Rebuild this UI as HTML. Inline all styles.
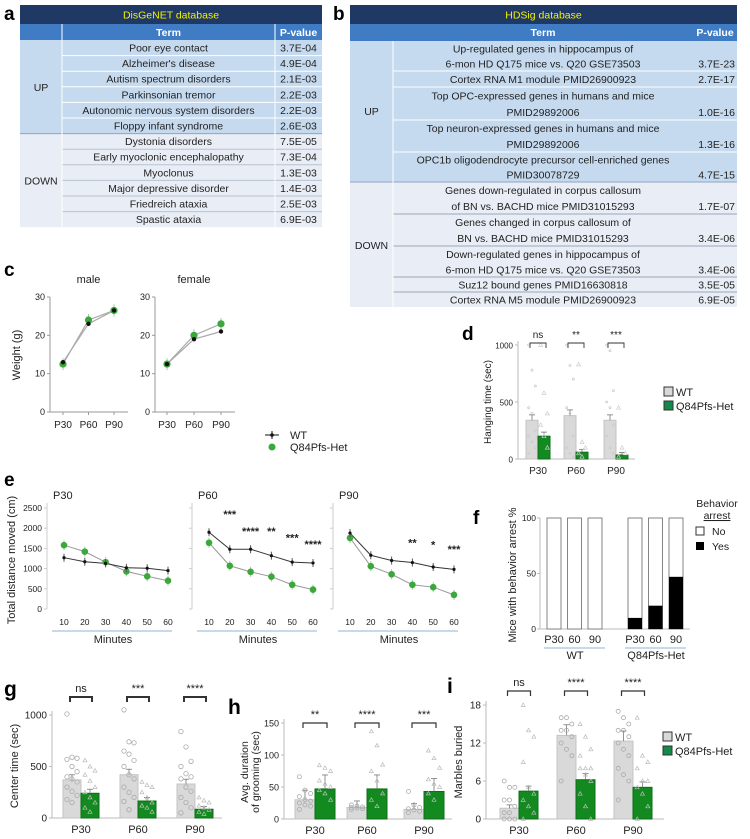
<!DOCTYPE html>
<html><head><meta charset="utf-8"><style>
html,body{margin:0;padding:0;background:#fff;}
svg{display:block;font-family:"Liberation Sans",sans-serif;}
</style></head><body>
<svg id="fig" xmlns="http://www.w3.org/2000/svg" width="750" height="839" viewBox="0 0 750 839">
<text x="4" y="20" font-size="19" font-weight="bold">a</text>
<text x="333" y="20" font-size="19" font-weight="bold">b</text>
<text x="4" y="276" font-size="19" font-weight="bold">c</text>
<text x="462" y="340" font-size="19" font-weight="bold">d</text>
<text x="4" y="486" font-size="19" font-weight="bold">e</text>
<text x="473" y="524" font-size="19" font-weight="bold">f</text>
<text x="4" y="696" font-size="21" font-weight="bold">g</text>
<text x="228" y="714" font-size="21" font-weight="bold">h</text>
<text x="447" y="693" font-size="21" font-weight="bold">i</text>
</svg>
<script>
// ---------- data ----------
const tableATerms = ["Poor eye contact","Alzheimer's disease","Autism spectrum disorders","Parkinsonian tremor","Autonomic nervous system disorders","Floppy infant syndrome","Dystonia disorders","Early myoclonic encephalopathy","Myoclonus","Major depressive disorder","Friedreich ataxia","Spastic ataxia"];
const tableAP = ["3.7E-04","4.9E-04","2.1E-03","2.2E-03","2.2E-03","2.6E-03","7.5E-05","7.3E-04","1.3E-03","1.4E-03","2.5E-03","6.9E-03"];
const tableBTerms = [["Up-regulated genes in hippocampus of","6-mon HD Q175 mice vs. Q20 GSE73503"],["Cortex RNA M1 module PMID26900923"],["Top OPC-expressed genes in humans and mice","PMID29892006"],["Top neuron-expressed genes in humans and mice","PMID29892006"],["OPC1b oligodendrocyte precursor cell-enriched genes","PMID30078729"],["Genes down-regulated in corpus callosum","of BN vs. BACHD mice PMID31015293"],["Genes changed in corpus callosum of","BN vs. BACHD mice PMID31015293"],["Down-regulated genes in hippocampus of","6-mon HD Q175 mice vs. Q20 GSE73503"],["Suz12 bound genes PMID16630818"],["Cortex RNA M5 module PMID26900923"]];
const tableBP = ["3.7E-23","2.7E-17","1.0E-16","1.3E-16","4.7E-15","1.7E-07","3.4E-06","3.4E-06","3.5E-05","6.9E-05"];

const ageLabels = ["P30","P60","P90"];
const weightMaleWT = [13, 23, 26.5];
const weightMaleHet = [12.5, 24, 26.5];
const weightFemaleWT = [12.5, 19, 21];
const weightFemaleHet = [12.5, 20, 23];
const weightTicks = [0,10,20,30];

const hangWT = [340, 380, 340];
const hangHet = [200, 60, 35];
const hangSig = ["ns","**","***"];
const hangTicks = [0,500,1000];
const hangPtsWT = [[1000,780,640,450,400,250,200,150,100,50],[1000,820,700,450,400,200,100,50,20],[1000,950,600,500,450,300,200,100,50]];
const hangPtsHet = [[1000,580,400,300,200,100],[830,150,100,50,20],[450,100,50,20]];

const minutes = [10,20,30,40,50,60];
const distTicks = [0,500,1000,1500,2000,2500];
const distWT = [[1270,1170,1130,1020,1010,950],[1900,1480,1480,1320,1160,1140],[1880,1330,1200,1150,1040,980]];
const distHet = [[1580,1420,1160,930,810,700],[1640,1070,920,800,600,480],[1760,1060,860,600,540,350]];
const distStars = [["","","","","",""],["","***","****","**","***","****"],["","","","**","*","***"]];

const arrestWT = [0,0,0];
const arrestHet = [10,21,47];
const arrestTicks = [0,50,100];
const arrestLabels = ["P30","60","90"];

const centerWT = [370, 420, 330];
const centerHet = [240, 165, 85];
const centerSig = ["ns","***","****"];
const centerTicks = [0,500,1000];
const centerPtsWT = [[1010,590,580,570,500,450,400,380,350,300,260,220,180,150],[1050,740,730,650,620,560,500,420,380,300,250,200,160,80],[840,690,550,500,430,400,380,300,260,200,150,100,50]];
const centerPtsHet = [[560,500,460,420,360,300,250,200,150,100,60],[350,320,300,250,200,150,120,100,60],[200,170,150,120,100,80,60,40]];

const groomWT = [30, 18, 15];
const groomHet = [47, 47, 43];
const groomSig = ["**","****","***"];
const groomTicks = [0,50,100,150];
const groomPtsWT = [[66,45,40,35,30,28,25,22,20,15],[22,20,19,18,17,16,15],[43,22,18,16,14,12,10]];
const groomPtsHet = [[84,80,75,60,55,50,45,40,30],[137,115,85,75,60,40,30,20],[107,95,80,62,55,50,40,30]];

const marbleWT = [1.7, 13.2, 12.3];
const marbleHet = [4.4, 6.2, 5.0];
const marbleSig = ["ns","****","****"];
const marbleTicks = [0,6,12,18];
const marblePtsWT = [[6,5,5,3,3,2,1,1,0,0,0],[16,16,15,14,14,13,12,11,10,6],[17,16,15,14,14,13,12,11,10,8,7,6,3]];
const marblePtsHet = [[18,14,13,9,5,4,3,2,1,0],[15,13,11,10,8,8,8,7,6,4,2,0],[16,10,9,8,6,6,5,4,2,0]];

// ---------- helpers ----------
const NS = "http://www.w3.org/2000/svg";
const svg = document.getElementById("fig");
const GREEN = "#138a1f", GRAY = "#d9d9d9";
function mk(tag, attrs, parent){ const e=document.createElementNS(NS,tag); for(const k in attrs) e.setAttribute(k,attrs[k]); (parent||svg).appendChild(e); return e; }
function txt(x,y,s,size,anchor,extra){ const e=mk("text",Object.assign({x:x,y:y,"font-size":size,"text-anchor":anchor||"start",fill:"#222"},extra||{})); e.textContent=s; return e; }

// ---------- Table A ----------
(function(){
  const x0=20,x1=62,x2=275,x3=322, top=5, h0=19, h1=16, rh=15.6;
  const r0 = top+h0+h1;
  let e=mk("rect",{x:x0,y:top,width:x3-x0,height:h0,fill:"#1f3864"});
   
  e=txt((x0+x3)/2,top+13.5,"DisGeNET database",10.5,"middle",{fill:"#f2f200"});
   
  e=mk("rect",{x:x0,y:top+h0,width:x3-x0,height:h1,fill:"#3f7cc4"});
   
  mk("line",{x1:x1,y1:top+h0,x2:x1,y2:r0,stroke:"#fff","stroke-width":1});
  mk("line",{x1:x2,y1:top+h0,x2:x2,y2:r0,stroke:"#fff","stroke-width":1});
  e=txt((x1+x2)/2,top+h0+12,"Term",10.5,"middle",{fill:"#fff","font-weight":"bold"});
   
  e=txt((x2+x3)/2,top+h0+12,"P-value",10.5,"middle",{fill:"#fff","font-weight":"bold"});
   
  mk("rect",{x:x0,y:r0,width:x3-x0,height:rh*6,fill:"#c6daef"});
  mk("rect",{x:x0,y:r0+rh*6,width:x3-x0,height:rh*6,fill:"#e9edf5"});
  mk("line",{x1:x0,y1:r0+rh*6,x2:x3,y2:r0+rh*6,stroke:"#8fa4c2","stroke-width":1});
  e=txt((x0+x1)/2,r0+rh*3+4,"UP",10.5,"middle");
   
  e=txt((x0+x1)/2,r0+rh*9+4,"DOWN",10.5,"middle");
   
  tableATerms.forEach((t,i)=>{
    const y=r0+rh*i;
    if(i>0 && i!==6) mk("line",{x1:x1,y1:y,x2:x3,y2:y,stroke:i<6?"#fff":"#b9c2d2","stroke-width":1});
    let a=txt((x1+x2)/2,y+11.5,t,10.5,"middle");
     
    let b=txt((x2+x3)/2,y+11.5,tableAP[i],10.5,"middle");
     
  });
  mk("line",{x1:x1,y1:r0,x2:x1,y2:r0+rh*12,stroke:"#fff","stroke-width":1});
  mk("line",{x1:x2,y1:r0,x2:x2,y2:r0+rh*12,stroke:"#fff","stroke-width":1});
})();

// ---------- Table B ----------
(function(){
  const x0=350,x1=393,x2=693,x3=737, top=5;
  const bounds=[41,71,87,120,152,182,214,246,277,292,307];
  let e=mk("rect",{x:x0,y:top,width:x3-x0,height:19,fill:"#1f3864"});
   
  e=txt((x0+x3)/2,top+13.5,"HDSig database",10.5,"middle",{fill:"#f2f200"});
   
  e=mk("rect",{x:x0,y:24,width:x3-x0,height:17,fill:"#3f7cc4"});
   
  e=txt((x1+x2)/2,36,"Term",10.5,"middle",{fill:"#fff","font-weight":"bold"});
   
  e=txt((x2+x3)/2,36,"P-value",10.5,"middle",{fill:"#fff","font-weight":"bold"});
   
  mk("rect",{x:x0,y:41,width:x3-x0,height:182-41,fill:"#c6daef"});
  mk("rect",{x:x0,y:182,width:x3-x0,height:307-182,fill:"#e9edf5"});
  mk("line",{x1:x0,y1:182,x2:x3,y2:182,stroke:"#8fa4c2","stroke-width":1});
  e=txt((x0+x1)/2,115,"UP",10.5,"middle");
   
  e=txt((x0+x1)/2,249,"DOWN",10.5,"middle");
   
  tableBTerms.forEach((lines,i)=>{
    const y0=bounds[i], y1=bounds[i+1];
    if(i>0 && i!==5) mk("line",{x1:x1,y1:y0,x2:x3,y2:y0,stroke:i<5?"#fff":"#9aa6ba","stroke-width":1});
    const n=lines.length, lh=(y1-y0)/n;
    lines.forEach((l,j)=>{
      let a=txt((x1+x2)/2,y0+lh*j+lh/2+4,l,10.5,"middle");
       
    });
    let b=txt(x3-2,y1-lh/2+4,tableBP[i],10.5,"end");
     
  });
  mk("line",{x1:x1,y1:41,x2:x1,y2:307,stroke:"#fff","stroke-width":1});
})();

// ---------- Panel c ----------
function weightPlot(axX, x0, dx, wt, het, title, name){
  const yB=412, yT=297;
  const y=v=>yB-(v/30)*(yB-yT);
  let e=txt(x0+dx,283,title,11,"middle");
   
  e=mk("line",{x1:axX,y1:yT,x2:axX,y2:yB,stroke:"#999"});
   
  e=mk("line",{x1:axX,y1:yB,x2:x0+2*dx+14,y2:yB,stroke:"#999"});
   
  weightTicks.forEach(t=>{
    mk("line",{x1:axX-3,y1:y(t),x2:axX,y2:y(t),stroke:"#999"});
    let a=txt(axX-5,y(t)+3,String(t),9,"end");
     
  });
  ageLabels.forEach((l,i)=>{
    mk("line",{x1:x0+i*dx,y1:yB,x2:x0+i*dx,y2:yB+3,stroke:"#999"});
    let a=txt(x0+i*dx,yB+16,l,10,"middle");
     
  });
  const ptsW=wt.map((v,i)=>(x0+i*dx)+","+y(v)).join(" ");
  const ptsH=het.map((v,i)=>(x0+i*dx)+","+y(v)).join(" ");
  e=mk("polyline",{points:ptsH,fill:"none",stroke:"#aaa","stroke-width":1.2});
   
  e=mk("polyline",{points:ptsW,fill:"none",stroke:"#aaa","stroke-width":1.2});
   
  het.forEach((v,i)=>{
    mk("line",{x1:x0+i*dx,y1:y(v)-6,x2:x0+i*dx,y2:y(v)+6,stroke:"#9c9","stroke-width":1});
    let a=mk("circle",{cx:x0+i*dx,cy:y(v),r:3.6,fill:"#3aa83a"});
     
  });
  wt.forEach((v,i)=>{
    let a=mk("circle",{cx:x0+i*dx,cy:y(v),r:2.2,fill:"#111"});
     
  });
}
weightPlot(50,63,25.5,weightMaleWT,weightMaleHet,"male","weight-male");
weightPlot(155,167,27,weightFemaleWT,weightFemaleHet,"female","weight-female");
(function(){
  let e=txt(0,0,"Weight (g)",11,"middle",{transform:"translate(20,355) rotate(-90)"});
   
  mk("line",{x1:265,y1:435,x2:279,y2:435,stroke:"#111"});
  mk("line",{x1:272,y1:431,x2:272,y2:439,stroke:"#111"});
  e=mk("circle",{cx:272,cy:435,r:1.8,fill:"#111"});
   
  e=txt(290,439,"WT",11,"start");
   
  e=mk("circle",{cx:272,cy:447,r:3.5,fill:"#3aa83a"});
   
  e=txt(290,451,"Q84Pfs-Het",11,"start");
   
})();

// ---------- bar chart helper (d, g, h, i) ----------
function barChart(o){
  const y=v=>o.yB-(v/o.max)*(o.yB-o.yT);
  let e=mk("line",{x1:o.axX,y1:o.yT-4,x2:o.axX,y2:o.yB,stroke:"#bbb"});
   
  e=mk("line",{x1:o.axX,y1:o.yB,x2:o.xEnd,y2:o.yB,stroke:"#bbb"});
   
  o.ticks.forEach(t=>{
    mk("line",{x1:o.axX-3,y1:y(t),x2:o.axX,y2:y(t),stroke:"#bbb"});
    let a=txt(o.axX-5,y(t)+3.5,String(t),o.tickSize||10,"end");
     
  });
  ageLabels.forEach((l,i)=>{
    const c=o.centers[i];
    let a=mk("rect",{x:c-o.bw,y:y(o.wt[i]),width:o.bw,height:o.yB-y(o.wt[i]),fill:GRAY,stroke:"#c4c4c4"});
     
    let b=mk("rect",{x:c,y:y(o.het[i]),width:o.bw,height:o.yB-y(o.het[i]),fill:GREEN,stroke:"#0d6e18"});
    
    
    const ew=o.err||0.08;
    [[c-o.bw/2,o.wt[i]],[c+o.bw/2,o.het[i]]].forEach(p=>{
      const top=y(p[1]*(1+ew)+o.max*0.02);
      mk("line",{x1:p[0],y1:y(p[1]),x2:p[0],y2:top,stroke:"#777","stroke-width":0.8});
      mk("line",{x1:p[0]-3,y1:top,x2:p[0]+3,y2:top,stroke:"#777","stroke-width":0.8});
    });
    if(o.ptsWT){
      o.ptsWT[i].forEach((v,k)=>{
        let p=mk("circle",{cx:c-o.bw/2+((k%3)-1)*o.bw*0.28,cy:y(v),r:o.pr||2,fill:"none",stroke:o.ptColor||"#aaa","stroke-width":0.8});
         
      });
      o.ptsHet[i].forEach((v,k)=>{
        let p=mk("path",{d:`M${c+o.bw/2+((k%3)-1)*o.bw*0.28},${y(v)-2} l2,3.5 l-4,0 z`,fill:"none",stroke:o.ptColor||"#bbb","stroke-width":0.7});
         
      });
    }
    const bl=c-o.bw/2-2, br=c+o.bw/2+2;
    let s=mk("path",{d:`M${bl},${o.brY+5} V${o.brY} H${br} V${o.brY+5}`,fill:"none",stroke:"#333","stroke-width":o.brW||1.2});
     
    let st=txt(c,o.brY-5,o.sig[i],o.sigSize||11,"middle");
     
    let xl=txt(c,o.yB+15,l,o.xSize||11,"middle");
     
  });
}
barChart({name:"hanging",axX:518,yT:345,yB:459,max:1000,ticks:hangTicks,xEnd:635,centers:[538,576,616],bw:12,wt:hangWT,het:hangHet,sig:hangSig,brY:343,sigSize:10,tickSize:8,xSize:10,brW:0.9,ptsWT:hangPtsWT,ptsHet:hangPtsHet,pr:1,ptColor:"#ccc"});
barChart({name:"center-time",axX:52,yT:715,yB:818,max:1000,ticks:centerTicks,xEnd:222,centers:[81,138,195],bw:18,wt:centerWT,het:centerHet,sig:centerSig,brY:697,ptsWT:centerPtsWT,ptsHet:centerPtsHet,pr:2.2,brW:2});
barChart({name:"grooming",axX:284,yT:723,yB:819,max:150,ticks:groomTicks,xEnd:452,centers:[315,367,424],bw:20,wt:groomWT,het:groomHet,sig:groomSig,brY:723,ptsWT:groomPtsWT,ptsHet:groomPtsHet,err:0.4,tickSize:9});
barChart({name:"marbles",axX:486,yT:705,yB:819,max:18,ticks:marbleTicks,xEnd:664,centers:[519,576,633],bw:19,wt:marbleWT,het:marbleHet,sig:marbleSig,brY:691,ptsWT:marblePtsWT,ptsHet:marblePtsHet,err:0.1});

(function(){
  let e=txt(0,0,"Hanging time (sec)",10,"middle",{transform:"translate(491,402) rotate(-90)"});
   
  e=txt(0,0,"Center time (sec)",11,"middle",{transform:"translate(18,766) rotate(-90)"});
   
  e=txt(0,0,"Avg. duration",10.5,"middle",{transform:"translate(248,772) rotate(-90)"});
   
  e=txt(0,0,"of grooming (sec)",10.5,"middle",{transform:"translate(259,772) rotate(-90)"});
   
  e=txt(0,0,"Marbles buried",11,"middle",{transform:"translate(462,762) rotate(-90)"});
   
  [[664,387,"hanging"],[663,732,"marbles"]].forEach(p=>{
    let a=mk("rect",{x:p[0],y:p[1],width:9,height:9,fill:GRAY,stroke:"#333"});
     
    a=txt(p[0]+12,p[1]+9,"WT",11,"start");
     
    a=mk("rect",{x:p[0],y:p[1]+14,width:9,height:9,fill:"#138a4a",stroke:"#333"});
     
    a=txt(p[0]+12,p[1]+23,"Q84Pfs-Het",11,"start");
     
  });
})();

// ---------- Panel e ----------
(function(){
  const yB=609, yT=508;
  const y=v=>yB-(v/2500)*(yB-yT);
  const axes=[47,192,333], titles=["P30","P60","P90"];
  axes.forEach((ax,p)=>{
    const x=m=>ax+17+(m-10)/50*104;
    let e=txt(ax+6,499,titles[p],11,"start");
     
    e=mk("line",{x1:ax,y1:yT-5,x2:ax,y2:yB,stroke:"#ccc"});
     
    distTicks.forEach(t=>{
      mk("line",{x1:ax-3,y1:y(t),x2:ax,y2:y(t),stroke:"#ccc"});
      if(p===0){
        let a=txt(ax-5,y(t)+3,String(t),8.5,"end");
         
      }
    });
    minutes.forEach(m=>{
      let a=txt(x(m),625,String(m),8.5,"middle");
       
    });
    e=mk("line",{x1:ax+5,y1:631,x2:ax+125,y2:631,stroke:"#8fb3d9","stroke-width":1});
     
    e=txt(ax+66,643,"Minutes",11,"middle");
     
    e=mk("polyline",{points:distHet[p].map((v,i)=>x(minutes[i])+","+y(v)).join(" "),fill:"none",stroke:"#999","stroke-width":1});
     
    e=mk("polyline",{points:distWT[p].map((v,i)=>x(minutes[i])+","+y(v)).join(" "),fill:"none",stroke:"#333","stroke-width":1});
     
    distHet[p].forEach((v,i)=>{
      mk("line",{x1:x(minutes[i]),y1:y(v)-5,x2:x(minutes[i]),y2:y(v)+5,stroke:"#9c9"});
      let a=mk("circle",{cx:x(minutes[i]),cy:y(v),r:3.3,fill:"#3aa83a"});
       
    });
    distWT[p].forEach((v,i)=>{
      mk("line",{x1:x(minutes[i]),y1:y(v)-4,x2:x(minutes[i]),y2:y(v)+4,stroke:"#555"});
      let a=mk("circle",{cx:x(minutes[i]),cy:y(v),r:1.6,fill:"#111"});
       
      const s=distStars[p][i];
      if(s){
        let st=txt(x(minutes[i]),y(Math.max(v,distWT[p][Math.max(i-1,0)]))-14,s,11,"middle",{"font-weight":"bold"});
         
      }
    });
  });
  let e=txt(0,0,"Total distance moved (cm)",11,"middle",{transform:"translate(15,560) rotate(-90)"});
   
})();

// ---------- Panel f ----------
(function(){
  const yB=629, yT=518, ax=540;
  const y=v=>yB-(v/100)*(yB-yT);
  let e=mk("line",{x1:ax,y1:yT,x2:ax,y2:yB,stroke:"#bbb"});
   
  e=mk("line",{x1:ax,y1:yB,x2:690,y2:yB,stroke:"#bbb"});
   
  arrestTicks.forEach(t=>{
    mk("line",{x1:ax-3,y1:y(t),x2:ax,y2:y(t),stroke:"#bbb"});
    let a=txt(ax-4,y(t)+3,String(t),8.5,"end");
     
  });
  const groups=[[554,arrestWT,"wt"],[635,arrestHet,"het"]];
  groups.forEach(g=>{
    g[1].forEach((v,i)=>{
      const cx=g[0]+i*20.5, w=14;
      let a=mk("rect",{x:cx-w/2,y:yT,width:w,height:yB-yT,fill:"#fff",stroke:"#777","stroke-width":0.9});
       
      if(v>0){
        let b=mk("rect",{x:cx-w/2,y:y(v),width:w,height:yB-y(v),fill:"#000"});
         
      }
      let l=txt(cx,643,arrestLabels[i],11,"middle");
       
    });
    let u=mk("line",{x1:g[0]-10,y1:648,x2:g[0]+51,y2:648,stroke:"#8fb3d9"});
     
  });
  e=txt(575,659,"WT",11,"middle");
   
  e=txt(656,659,"Q84Pfs-Het",11,"middle");
   
  e=txt(0,0,"Mice with behavior arrest %",11,"middle",{transform:"translate(516,575) rotate(-90)"});
   
  e=txt(717,507,"Behavior",10.5,"middle");
   
  e=txt(717,519,"arrest",10.5,"middle",{"text-decoration":"underline"});
   
  e=mk("rect",{x:696,y:527,width:8,height:8,fill:"#fff",stroke:"#333"});
   
  e=txt(712,535,"No",10.5,"start");
   
  e=mk("rect",{x:696,y:542,width:8,height:8,fill:"#000"});
   
  e=txt(712,550,"Yes",10.5,"start");
   
})();
</script>
</body></html>
